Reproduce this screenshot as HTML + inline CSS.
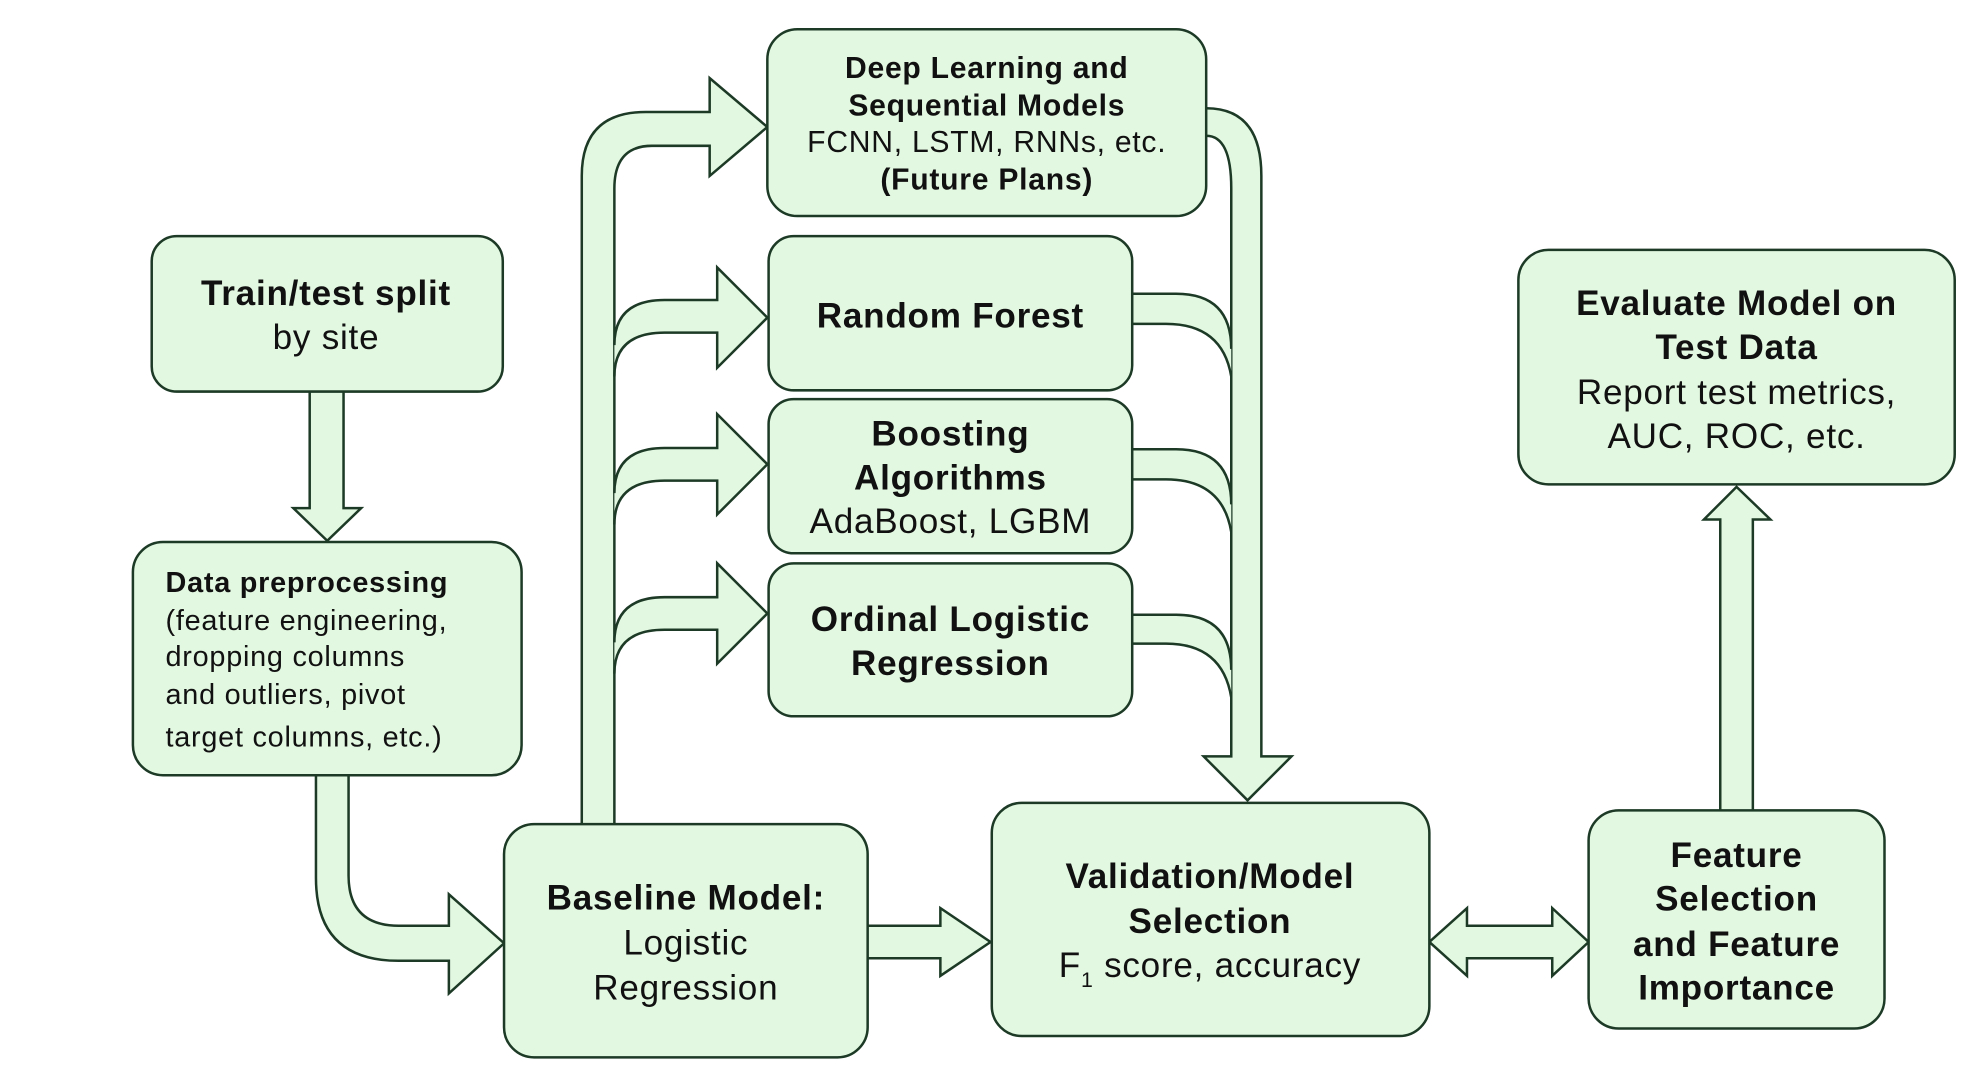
<!DOCTYPE html>
<html><head><meta charset="utf-8"><style>
html,body{margin:0;padding:0;background:#fff;}
svg{display:block;}
text{font-family:"Liberation Sans",sans-serif;fill:#111;letter-spacing:0.6px;}
.b{font-weight:bold;}
</style></head><body>
<svg width="1966" height="1069" viewBox="0 0 1568 852" xmlns="http://www.w3.org/2000/svg">
<g fill="#e3f8e1" stroke="#1c3a26" stroke-width="2" stroke-linejoin="miter">
<path d="M962,86 Q1006,86 1006,140 L1006,603 L1030,603 L995,638 L960,603 L982,603 L982,150 Q982,108 962,108"/>
<path d="M903,234 L938,234 Q982,234 982,278 L982,300 Q975,258 930,258 L903,258 Z" stroke="none"/>
<path d="M903,234 L938,234 Q982,234 982,278 M982,300 Q975,258 930,258 L903,258" fill="none"/>
<path d="M903,358 L938,358 Q982,358 982,402 L982,424 Q975,382 930,382 L903,382 Z" stroke="none"/>
<path d="M903,358 L938,358 Q982,358 982,402 M982,424 Q975,382 930,382 L903,382" fill="none"/>
<path d="M903,490 L938,490 Q982,490 982,534 L982,556 Q975,513 930,513 L903,513 Z" stroke="none"/>
<path d="M903,490 L938,490 Q982,490 982,534 M982,556 Q975,513 930,513 L903,513" fill="none"/>
<path d="M464,657 L464,140 Q464,89 515,89 L566,89 L566,62 L612,101 L566,140 L566,116 L520,116 Q490,116 490,150 L490,657"/>
<path d="M490,275 Q490,239 530,239 L572,239 L572,213 L612,253 L572,293 L572,265 L530,265 Q490,265 490,300"/>
<path d="M490,393 Q490,357 530,357 L572,357 L572,330 L612,370 L572,410 L572,383 L530,383 Q490,383 490,418"/>
<path d="M490,512 Q490,476 530,476 L572,476 L572,449 L612,489 L572,529 L572,502 L530,502 Q490,502 490,537"/>
<path d="M247,312 L247,405 L234,405 L261,431 L288,405 L274,405 L274,312"/>
<path d="M252,618 L252,700 Q252,766 318,766 L358,766 L358,792 L402,752 L358,713 L358,738 L318,738 Q278,738 278,698 L278,618"/>
<path d="M692,738 L750,738 L750,724 L790,751 L750,778 L750,764 L692,764"/>
<path d="M1140,751 L1170,724 L1170,738 L1238,738 L1238,724 L1267,751 L1238,778 L1238,764 L1170,764 L1170,778 Z"/>
<path d="M1372,646 L1372,414 L1359,414 L1385,388 L1412,414 L1398,414 L1398,646"/>
<rect x="121" y="188" width="280" height="124" rx="20"/>
<rect x="106" y="432" width="310" height="186" rx="24"/>
<rect x="402" y="657" width="290" height="186" rx="24"/>
<rect x="791" y="640" width="349" height="186" rx="24"/>
<rect x="1267" y="646" width="236" height="174" rx="24"/>
<rect x="1211" y="199" width="348" height="187" rx="24"/>
<rect x="612" y="23" width="350" height="149" rx="24"/>
<rect x="613" y="188" width="290" height="123" rx="20"/>
<rect x="613" y="318" width="290" height="123" rx="20"/>
<rect x="613" y="449" width="290" height="122" rx="20"/>
</g>
<g text-anchor="middle" font-size="28">
<text x="260" y="243" class="b">Train/test split</text>
<text x="260" y="278">by site</text>
<text x="547" y="725" class="b">Baseline Model:</text>
<text x="547" y="761">Logistic</text>
<text x="547" y="797">Regression</text>
<text x="965" y="708" class="b">Validation/Model</text>
<text x="965" y="744" class="b">Selection</text>
<text x="965" y="779">F<tspan font-size="17" dy="8">1</tspan><tspan dy="-8"> score, accuracy</tspan></text>
<text x="1385" y="691" class="b">Feature</text>
<text x="1385" y="726" class="b">Selection</text>
<text x="1385" y="762" class="b">and Feature</text>
<text x="1385" y="797" class="b">Importance</text>
<text x="1385" y="251" class="b">Evaluate Model on</text>
<text x="1385" y="286" class="b">Test Data</text>
<text x="1385" y="322">Report test metrics,</text>
<text x="1385" y="357">AUC, ROC, etc.</text>
<text x="758" y="261" class="b">Random Forest</text>
<text x="758" y="355" class="b">Boosting</text>
<text x="758" y="390" class="b">Algorithms</text>
<text x="758" y="425">AdaBoost, LGBM</text>
<text x="758" y="503" class="b">Ordinal Logistic</text>
<text x="758" y="538" class="b">Regression</text>
</g>
<g text-anchor="middle" font-size="24">
<text x="787" y="62" class="b">Deep Learning and</text>
<text x="787" y="92" class="b">Sequential Models</text>
<text x="787" y="121">FCNN, LSTM, RNNs, etc.</text>
<text x="787" y="151" class="b">(Future Plans)</text>
</g>
<g font-size="23">
<text x="132" y="472" class="b">Data preprocessing</text>
<text x="132" y="502">(feature engineering,</text>
<text x="132" y="531">dropping columns</text>
<text x="132" y="561">and outliers, pivot</text>
<text x="132" y="595">target columns, etc.)</text>
</g>
</svg>
</body></html>
